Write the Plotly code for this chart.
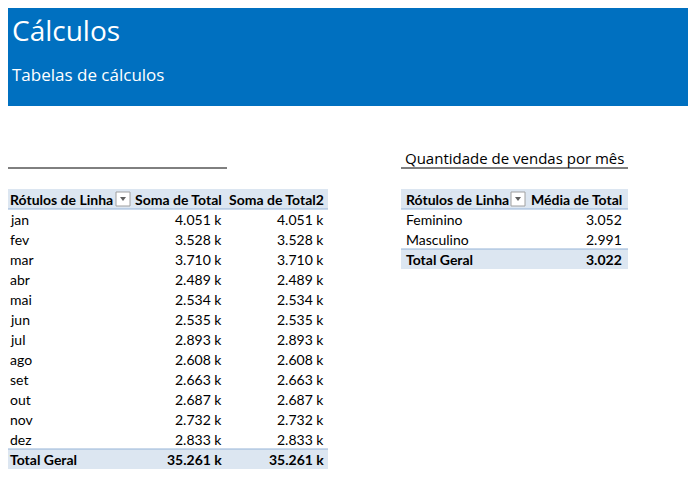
import plotly.graph_objects as go

meses = ["jan","fev","mar","abr","mai","jun","jul","ago","set","out","nov","dez"]
soma_total = ["4.051 k","3.528 k","3.710 k","2.489 k","2.534 k","2.535 k","2.893 k","2.608 k","2.663 k","2.687 k","2.732 k","2.833 k"]
soma_total2 = soma_total[:]
total_geral = ("35.261 k", "35.261 k")
generos = ["Feminino", "Masculino"]
media_total = ["3.052", "2.991"]
media_geral = "3.022"

W, H = 696, 492
OFF = 8  # page body margin compensation
fig = go.Figure()
shapes, ann = [], []
F = "Lato"
FS = 14
def txt(x, y, s, size=FS, anchor="left", color="#000", bold=False, font=F):
    ann.append(dict(x=x, y=y, text=f"<b>{s}</b>" if bold else s, showarrow=False, xanchor=anchor,
                    yanchor="middle", font=dict(family=font, size=size, color=color)))
def rect(x0, y0, x1, y1, fill, line=None):
    shapes.append(dict(type="rect", x0=x0, y0=y0, x1=x1, y1=y1, fillcolor=fill,
                       line=dict(width=1 if line else 0, color=line or fill), layer="below"))
def hline(x0, x1, y, color, w=1):
    shapes.append(dict(type="line", x0=x0, x1=x1, y0=y, y1=y, line=dict(color=color, width=w)))
def dropdown(x, y):
    rect(x, y - 7, x + 14, y + 7, "#ffffff", "#a0a0a0")
    shapes.append(dict(type="path", path=f"M{x+4},{y-2} L{x+10},{y-2} L{x+7},{y+2} Z",
                       fillcolor="#606060", line=dict(width=0)))

rect(-10, -10, W + 10, 106, "#0070C0")
txt(10, 30, "Cálculos", 28, color="white", font="Open Sans")
txt(10, 74, "Tabelas de cálculos", 17, color="white", font="Open Sans")

# left table
txt(7, 158, "Vendas por mês", 15, font="Open Sans")
hline(5, 227, 168, "#000")
rect(5, 189, 328, 209, "#DCE6F1")
txt(8, 199, "Rótulos de Linha", bold=True)
dropdown(116, 199)
txt(224, 199, "Soma de Total", anchor="right", bold=True)
txt(326, 199, "Soma de Total2", anchor="right", bold=True)
hline(5, 328, 209, "#95B3D7")
for i, m in enumerate(meses):
    y = 219 + 20 * i
    txt(8, y, m)
    txt(224, y, soma_total[i], anchor="right")
    txt(326, y, soma_total2[i], anchor="right")
yt = 219 + 20 * len(meses)
rect(5, yt - 10, 328, yt + 10, "#DCE6F1")
hline(5, 328, yt - 10, "#95B3D7")
txt(8, yt, "Total Geral", bold=True)
txt(224, yt, total_geral[0], anchor="right", bold=True)
txt(326, yt, total_geral[1], anchor="right", bold=True)

# right table
txt(403, 158, "Quantidade de vendas por mês", 15, font="Open Sans")
hline(401, 628, 168, "#000")
rect(401, 189, 628, 209, "#DCE6F1")
txt(404, 199, "Rótulos de Linha", bold=True)
dropdown(511, 199)
txt(624, 199, "Média de Total", anchor="right", bold=True)
hline(401, 628, 209, "#95B3D7")
for i, g in enumerate(generos):
    y = 219 + 20 * i
    txt(404, y, g)
    txt(624, y, media_total[i], anchor="right")
yt = 219 + 20 * len(generos)
rect(401, yt - 10, 628, yt + 10, "#DCE6F1")
hline(401, 628, yt - 10, "#95B3D7")
txt(404, yt, "Total Geral", bold=True)
txt(624, yt, media_geral, anchor="right", bold=True)

fig.update_layout(width=W, height=H, margin=dict(l=0, r=0, t=0, b=0),
                  plot_bgcolor="white", paper_bgcolor="white", shapes=shapes, annotations=ann,
                  xaxis=dict(range=[OFF, W + OFF], visible=False, fixedrange=True),
                  yaxis=dict(range=[H + OFF, OFF], visible=False, fixedrange=True), showlegend=False)
fig.write_html("out.html", config={"displayModeBar": False})
